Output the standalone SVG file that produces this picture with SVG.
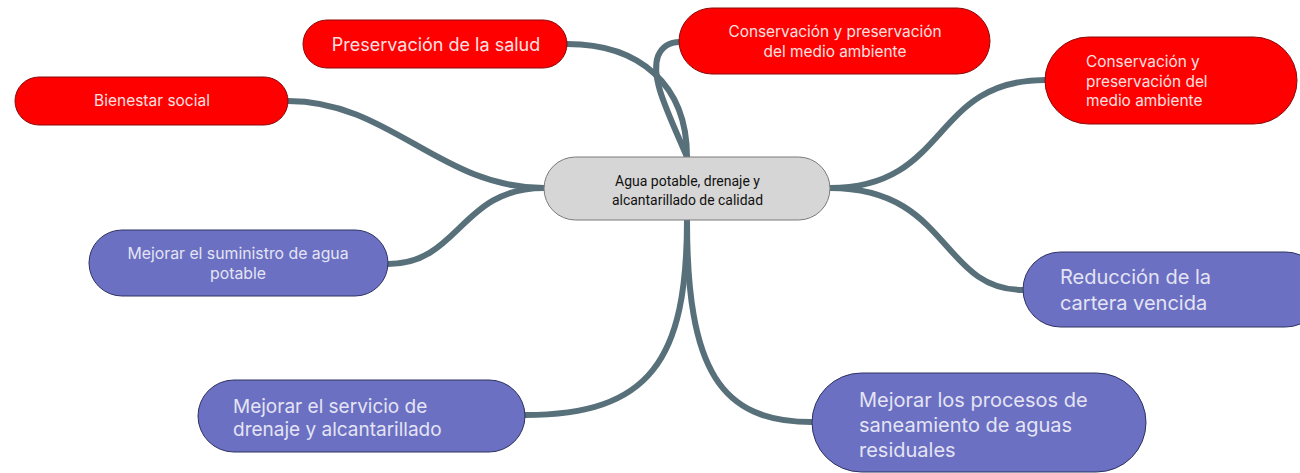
<svg xmlns="http://www.w3.org/2000/svg" width="1300" height="473" viewBox="0 0 1300 473">
<style>
.conn{fill:none;stroke:#57707a;stroke-width:6;stroke-linecap:round}
.red{fill:#ff0000;stroke:#8a0a0a;stroke-width:1}
.pur{fill:#6b70c2;stroke:#2e3262;stroke-width:1}
.ctr{fill:#d6d6d6;stroke:#7a7a7a;stroke-width:1}
.tr{font-family:Inter,"Noto Sans","Liberation Sans",sans-serif;fill:#fbe0e0}
.tp{font-family:Inter,"Noto Sans","Liberation Sans",sans-serif;fill:#e4e4f4}
.tc{font-family:Roboto,"Liberation Sans",sans-serif;fill:#111;font-size:15px}
</style>
<rect width="1300" height="473" fill="#ffffff"/>
<g id="connectors">
<path class="conn" d="M544,188 C440,188 390,101 288,101"/>
<path class="conn" d="M544,188 C460,188 460,264 388,264"/>
<path class="conn" d="M687,157 C687,85 640,44 567,44"/>
<path class="conn" d="M687,157 C668,112 650,78 658,56 Q664,42 680,42"/>
<path class="conn" d="M830,188 C950,188 930,80 1045,80"/>
<path class="conn" d="M830,188 C950,188 940,290 1023,290"/>
<path class="conn" d="M687,220 C687,360 650,415 525,415"/>
<path class="conn" d="M687,220 C687,370 720,422 812,422"/>
</g>
<g id="center">
<rect class="ctr" x="544" y="157" width="286" height="63" rx="31.5"/>
<text class="tc"><tspan x="615" y="186" textLength="145" lengthAdjust="spacingAndGlyphs">Agua potable, drenaje y</tspan><tspan x="612" y="205" textLength="151" lengthAdjust="spacingAndGlyphs">alcantarillado de calidad</tspan></text>
</g>
<g id="n-salud">
<rect class="red" x="303" y="20" width="264" height="48" rx="24"/>
<text class="tr" font-size="18" text-anchor="middle" x="436" y="51">Preservación de la salud</text>
</g>
<g id="n-medio1">
<rect class="red" x="679" y="8" width="311" height="66" rx="33"/>
<text class="tr" font-size="15.4" text-anchor="middle"><tspan x="835" y="37">Conservación y preservación</tspan><tspan x="835" y="57">del medio ambiente</tspan></text>
</g>
<g id="n-medio2">
<rect class="red" x="1045" y="37" width="252" height="87" rx="43.5"/>
<text class="tr" font-size="15.4"><tspan x="1086" y="67">Conservación y</tspan><tspan x="1086" y="87">preservación del</tspan><tspan x="1086" y="106">medio ambiente</tspan></text>
</g>
<g id="n-bienestar">
<rect class="red" x="15" y="77" width="273" height="48" rx="24"/>
<text class="tr" font-size="15.5" text-anchor="middle" x="152" y="106">Bienestar social</text>
</g>
<g id="n-suministro">
<rect class="pur" x="89" y="230" width="299" height="66" rx="33"/>
<text class="tp" font-size="15.8" text-anchor="middle"><tspan x="238" y="259">Mejorar el suministro de agua</tspan><tspan x="238" y="279">potable</tspan></text>
</g>
<g id="n-cartera">
<rect class="pur" x="1023" y="252" width="300" height="75" rx="37.5"/>
<text class="tp" font-size="20"><tspan x="1060" y="284">Reducción de la</tspan><tspan x="1060" y="310">cartera vencida</tspan></text>
</g>
<g id="n-drenaje">
<rect class="pur" x="198" y="380" width="327" height="72" rx="36"/>
<text class="tp" font-size="19"><tspan x="233" y="413">Mejorar el servicio de</tspan><tspan x="233" y="436">drenaje y alcantarillado</tspan></text>
</g>
<g id="n-saneamiento">
<rect class="pur" x="812" y="373" width="334" height="99" rx="49.5"/>
<text class="tp" font-size="20"><tspan x="859" y="407">Mejorar los procesos de</tspan><tspan x="859" y="432">saneamiento de aguas</tspan><tspan x="859" y="457">residuales</tspan></text>
</g>
</svg>
